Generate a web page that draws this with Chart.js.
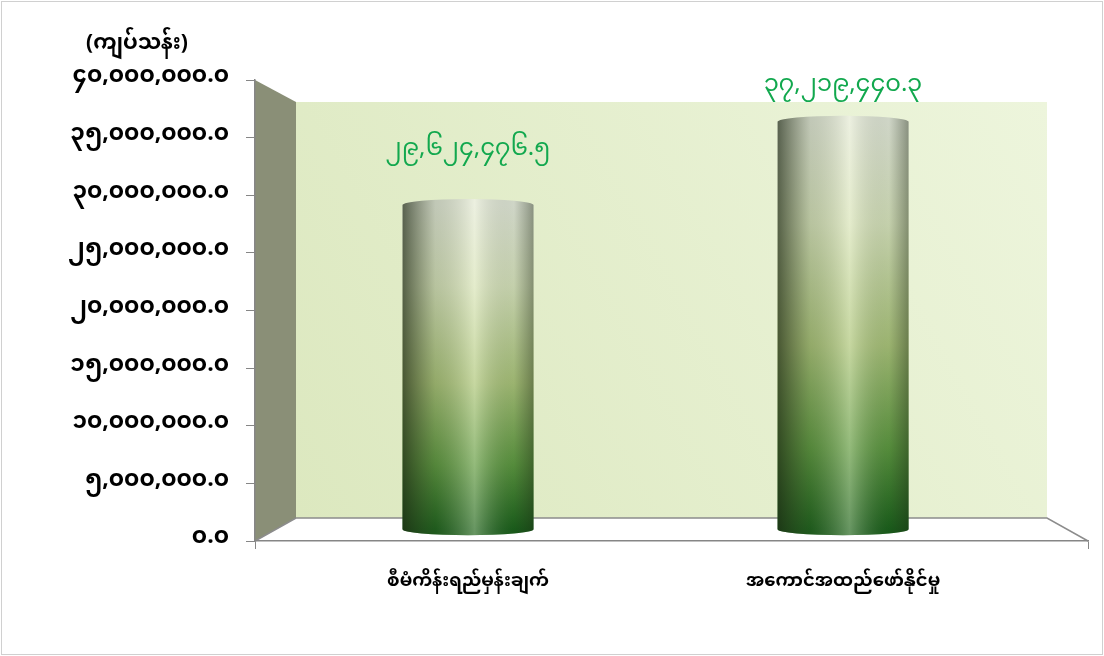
<!DOCTYPE html>
<html>
<head>
<meta charset="utf-8">
<script src="https://cdn.jsdelivr.net/npm/chart.js@4/dist/chart.umd.min.js"></script>
<style>
  html, body { margin: 0; padding: 0; background: #fff; }
  #wrap { width: 1104px; height: 656px; }
</style>
</head>
<body>
<div id="wrap"><canvas id="chart" width="1104" height="656"></canvas></div>
<script>
const categories = ["စီမံကိန်းရည်မှန်းချက်", "အကောင်အထည်ဖော်နိုင်မှု"];
const values = [29624476.5, 37219440.3];
const yMax = 40000000;
const yStep = 5000000;
const unitLabel = "(ကျပ်သန်း)";

const FONT = "'Noto Sans Myanmar', 'Myanmar Text', Padauk, 'Noto Sans', sans-serif";
const MY_DIGITS = "၀၁၂၃၄၅၆၇၈၉";

function toMyanmar(n) {
    return n.toLocaleString("en-US", { minimumFractionDigits: 1, maximumFractionDigits: 1 })
        .replace(/\d/g, d => MY_DIGITS[d]);
}

// perspective of the 3D box: back wall is a shrunk copy of the front plane
const DEPTH_X = 41, DEPTH_TOP = 22, DEPTH_BOTTOM = 23;

/* ============================
   WALLS, FLOOR, FRAME
============================ */
const boxPlugin = {
    id: "box3d",
    beforeDraw(chart) {
        const { ctx, chartArea: a, width, height } = chart;
        ctx.save();
        ctx.fillStyle = "#fff";
        ctx.fillRect(0, 0, width, height);

        const bl = a.left + DEPTH_X, br = a.right - DEPTH_X;
        const bt = a.top + DEPTH_TOP, bb = a.bottom - DEPTH_BOTTOM;

        // back wall
        const g = ctx.createLinearGradient(bl, bb, br, bt);
        g.addColorStop(0, "#dce8bf");
        g.addColorStop(1, "#edf5dc");
        ctx.fillStyle = g;
        ctx.fillRect(bl, bt, br - bl, bb - bt);

        // side wall
        ctx.fillStyle = "#8a8f77";
        ctx.beginPath();
        ctx.moveTo(a.left, a.top);
        ctx.lineTo(bl, bt);
        ctx.lineTo(bl, bb);
        ctx.lineTo(a.left, a.bottom);
        ctx.closePath();
        ctx.fill();

        // floor edges
        ctx.strokeStyle = "#8c8c8c";
        ctx.lineWidth = 1.5;
        ctx.beginPath();
        ctx.moveTo(a.left, a.bottom);
        ctx.lineTo(bl, bb);
        ctx.lineTo(br, bb);
        ctx.lineTo(a.right, a.bottom);
        ctx.stroke();

        // outer frame
        ctx.strokeStyle = "#d0d0d0";
        ctx.lineWidth = 1;
        ctx.strokeRect(1.5, 1.5, width - 3, height - 3);

        // unit label
        ctx.fillStyle = "#000";
        ctx.font = "bold 21px " + FONT;
        ctx.textAlign = "center";
        ctx.textBaseline = "middle";
        ctx.fillText(unitLabel, 137, 47);
        ctx.restore();
    }
};

/* ============================
   CYLINDERS + VALUE LABELS
============================ */
function cylinderPath(ctx, cx, top, bottom, w, ry) {
    const rx = w / 2;
    ctx.beginPath();
    ctx.moveTo(cx - rx, top);
    ctx.ellipse(cx, top, rx, ry, 0, Math.PI, 2 * Math.PI, false);
    ctx.lineTo(cx + rx, bottom);
    ctx.ellipse(cx, bottom, rx, ry, 0, 0, Math.PI, false);
    ctx.closePath();
}

const cylinderPlugin = {
    id: "cylinders",
    afterDatasetsDraw(chart) {
        const { ctx, chartArea: a } = chart;
        const cy = (a.top + a.bottom) / 2;
        const k = 0.951; // bars stand half way into the box
        const meta = chart.getDatasetMeta(0);
        ctx.save();
        meta.data.forEach((bar, i) => {
            const p = bar.getProps(["x", "y", "base", "width"], true);
            const top = cy + (p.y - cy) * k;
            const bottom = cy + (p.base - cy) * k;
            const w = p.width, ry = 6;

            const v = ctx.createLinearGradient(0, top, 0, bottom);
            v.addColorStop(0, "#e2e8da");
            v.addColorStop(0.25, "#d6e2bc");
            v.addColorStop(0.55, "#a8c279");
            v.addColorStop(0.8, "#5a963f");
            v.addColorStop(1, "#185f1a");
            cylinderPath(ctx, p.x, top, bottom, w, ry);
            ctx.fillStyle = v;
            ctx.fill();

            const h = ctx.createLinearGradient(p.x - w / 2, 0, p.x + w / 2, 0);
            h.addColorStop(0, "rgba(30,40,20,0.7)");
            h.addColorStop(0.25, "rgba(60,70,40,0.2)");
            h.addColorStop(0.55, "rgba(255,255,235,0.35)");
            h.addColorStop(0.85, "rgba(40,50,30,0.1)");
            h.addColorStop(1, "rgba(30,40,20,0.45)");
            cylinderPath(ctx, p.x, top, bottom, w, ry);
            ctx.fillStyle = h;
            ctx.fill();

            // value label, kept inside the plot
            const ly = Math.max(top - 53, a.top + 8);
            ctx.fillStyle = "#12a84e";
            ctx.font = "24px " + FONT;
            ctx.textAlign = "center";
            ctx.textBaseline = "middle";
            ctx.fillText(toMyanmar(values[i]), p.x, ly);
        });
        ctx.restore();
    }
};

new Chart(document.getElementById("chart"), {
    type: "bar",
    data: {
        datasets: [{
            data: values.map((v, i) => ({ x: i, y: v })),
            backgroundColor: "rgba(0,0,0,0)",
            borderWidth: 0,
            barThickness: 131
        }]
    },
    options: {
        responsive: false,
        animation: false,
        layout: { padding: { left: 10, top: 80, right: 16, bottom: 0 } },
        plugins: { legend: { display: false }, tooltip: { enabled: false } },
        scales: {
            x: {
                type: "linear",
                offset: false,
                min: -0.568,
                max: 1.653,
                afterBuildTicks: s => {
                    s.ticks = [{ value: s.min }, { value: 0 }, { value: 1 }, { value: s.max }];
                },
                afterFit: s => { s.height = 115; s.paddingRight = 0; s.paddingLeft = 0; },
                ticks: {
                    autoSkip: false,
                    maxRotation: 0,
                    padding: 24,
                    color: "#000",
                    font: { family: FONT, size: 18, weight: "bold" },
                    callback: v => categories[v] ?? ""
                },
                grid: {
                    offset: false,
                    drawOnChartArea: false,
                    tickLength: 8,
                    tickColor: c => (c.tick && Number.isInteger(c.tick.value)) ? "rgba(0,0,0,0)" : "#868686"
                },
                border: { color: "#868686", width: 1.5 }
            },
            y: {
                min: 0,
                max: yMax,
                afterFit: s => { s.width = 245; },
                ticks: {
                    stepSize: yStep,
                    padding: 17,
                    color: "#000",
                    font: { family: FONT, size: 23, weight: "bold" },
                    callback: v => toMyanmar(v)
                },
                grid: { drawOnChartArea: false, tickLength: 9, color: "#868686" },
                border: { color: "#868686", width: 1.5 }
            }
        }
    },
    plugins: [boxPlugin, cylinderPlugin]
});
</script>
</body>
</html>
